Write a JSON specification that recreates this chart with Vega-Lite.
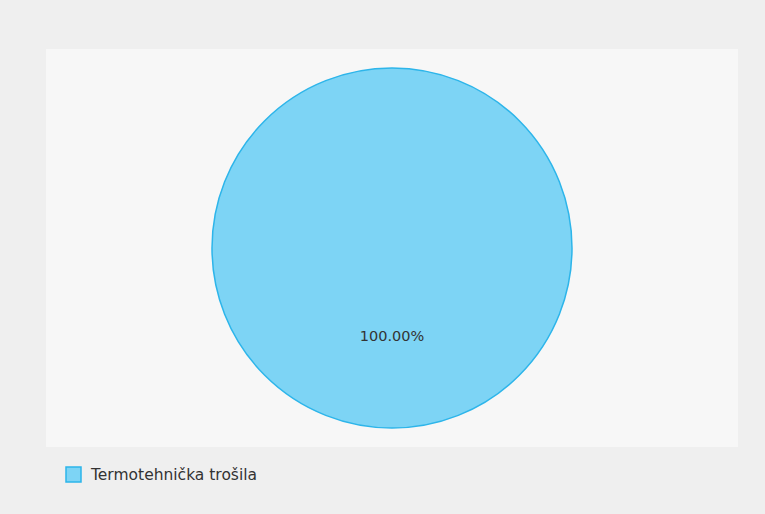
{
  "$schema": "https://vega.github.io/schema/vega-lite/v6.json",
  "autosize": {"type": "none"},
  "width": 692,
  "height": 398,
  "padding": {"left": 46, "top": 49, "right": 27, "bottom": 67},
  "background": "#efefef",
  "view": {"fill": "#f7f7f7", "stroke": null},
  "config": {
    "view": {"fill": "#f7f7f7", "stroke": null},
    "font": "DejaVu Sans"
  },
  "data": {"values": [{"category": "Termotehnička trošila", "value": 100, "label": "100.00%"}]},
  "layer": [
    {
      "mark": {"type": "arc", "radius": 180, "stroke": "#2db5ea", "strokeWidth": 1.5},
      "encoding": {
        "theta": {"field": "value", "type": "quantitative", "stack": true},
        "color": {
          "field": "category",
          "type": "nominal",
          "scale": {"range": ["#7dd4f5"]},
          "legend": {
            "title": null,
            "orient": "none",
            "legendX": 19,
            "legendY": 417,
            "symbolType": "square",
            "symbolSize": 225,
            "symbolStrokeColor": "#2db5ea",
            "symbolStrokeWidth": 1.5,
            "symbolFillColor": "#7dd4f5",
            "labelFontSize": 15.5,
            "labelLimit": 400,
            "labelColor": "#333333",
            "labelOffset": 9,
            "labelFont": "DejaVu Sans"
          }
        }
      }
    },
    {
      "mark": {"type": "text", "radius": 89, "fontSize": 14.5, "color": "#333333", "font": "DejaVu Sans"},
      "encoding": {
        "theta": {"field": "value", "type": "quantitative", "stack": true},
        "text": {"field": "label", "type": "nominal"}
      }
    }
  ]
}
